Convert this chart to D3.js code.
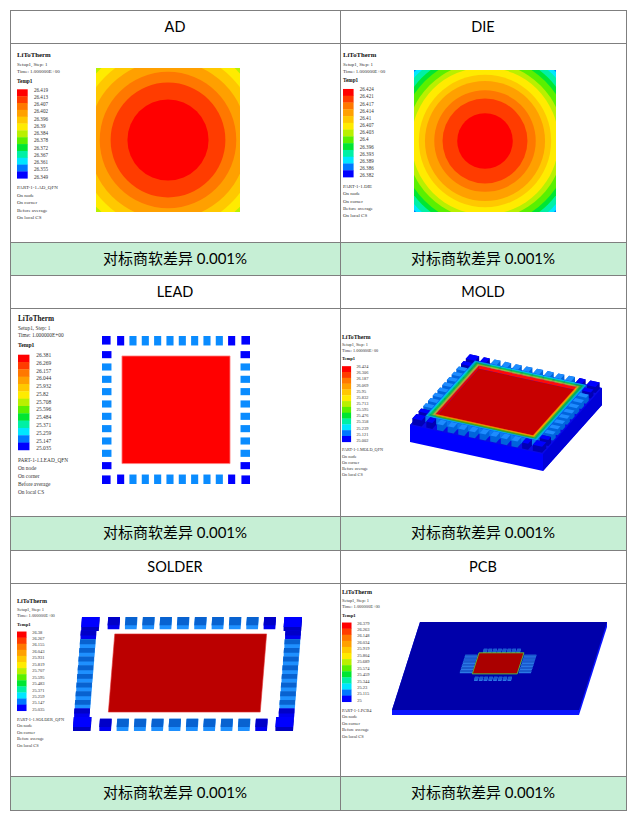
<!DOCTYPE html>
<html>
<head>
<meta charset="utf-8">
<script src="https://cdn.jsdelivr.net/npm/d3@7"></script>
<style>
body { margin: 0; background: #fff; }
svg { display: block; }
</style>
</head>
<body>
<script>
// values
const parts = ["AD", "DIE", "LEAD", "MOLD", "SOLDER", "PCB"];
const partIds = ["PART-1-1.AD_QFN", "PART-1-1.DIE", "PART-1-1.LEAD_QFN", "PART-1-1.MOLD_QFN", "PART-1-1.SOLDER_QFN", "PART-1-1.PCB4"];
const diffText = "对标商软差异 0.001%";
const headLines = ["Setup1, Step: 1", "Time: 1.000000E+00"];
const infoLines = ["On node", "On corner", "Before average", "On local CS"];

const adTicks = ["26.419", "26.413", "26.407", "26.402", "26.396", "26.39", "26.384", "26.378", "26.372", "26.367", "26.361", "26.355", "26.349"];
const dieTicks = ["26.424", "26.421", "26.417", "26.414", "26.41", "26.407", "26.403", "26.4", "26.396", "26.393", "26.389", "26.386", "26.382"];
const leadTicks = ["26.381", "26.269", "26.157", "26.044", "25.932", "25.82", "25.708", "25.596", "25.484", "25.371", "25.259", "25.147", "25.035"];
const moldTicks = ["26.424", "26.306", "26.187", "26.069", "25.95", "25.832", "25.713", "25.595", "25.476", "25.358", "25.239", "25.121", "25.002"];
const solderTicks = ["26.38", "26.267", "26.155", "26.043", "25.931", "25.819", "25.707", "25.595", "25.483", "25.371", "25.259", "25.147", "25.035"];
const pcbTicks = ["26.379", "26.263", "26.148", "26.034", "25.919", "25.804", "25.689", "25.574", "25.459", "25.344", "25.23", "25.115", "25"];

const legendColors = ["#ff0000", "#ff3c00", "#ff7800", "#ffa000", "#ffc800", "#ffeb00", "#b9f000", "#5af000", "#00e632", "#00f0a5", "#00e6ff", "#0078ff", "#0000ff"];

// pin slots per package side
const qfnSlots = d3.range(10);
const pcbLongSlots = d3.range(8);
const pcbShortSlots = d3.range(6);

const W = 631, H = 818;
const svg = d3.select("body").append("svg").attr("width", W).attr("height", H);

// table frame
const colX = [10, 340, 626];
const blocks = [[10, 43, 242, 275], [275, 308, 516, 550], [550, 583, 776, 810]];
const textFont = "Lato, 'Noto Sans CJK SC', sans-serif";

blocks.forEach(b => {
  for (let c = 0; c < 2; c++) {
    svg.append("rect").attr("x", colX[c]).attr("y", b[2]).attr("width", colX[c + 1] - colX[c]).attr("height", b[3] - b[2])
      .attr("fill", "#c6efd5");
  }
});

parts.forEach((p, i) => {
  const c = i % 2, b = blocks[Math.floor(i / 2)];
  const cx = (colX[c] + colX[c + 1]) / 2;
  svg.append("text").attr("x", cx).attr("y", (b[0] + b[1]) / 2).attr("dy", "0.36em")
    .attr("text-anchor", "middle").attr("font-family", textFont).attr("font-size", 14.5).attr("fill", "#000").text(p);
  svg.append("text").attr("x", cx).attr("y", (b[2] + b[3]) / 2).attr("dy", "0.36em")
    .attr("text-anchor", "middle").attr("font-family", textFont).attr("font-size", 15).attr("fill", "#000").text(diffText);
});

// ---------- helpers ----------
function makeProj(o, U, V) {
  const ux = d3.scaleLinear().domain([0, 1]).range([0, U[0]]), uy = d3.scaleLinear().domain([0, 1]).range([0, U[1]]);
  const vx = d3.scaleLinear().domain([0, 1]).range([0, V[0]]), vy = d3.scaleLinear().domain([0, 1]).range([0, V[1]]);
  return (u, v, w = 0) => [o[0] + ux(u) + vx(v), o[1] + uy(u) + vy(v) - w];
}
function quad(proj, u0, u1, v0, v1, w) {
  return [[u0, v0], [u1, v0], [u1, v1], [u0, v1]].map(([u, v]) => proj(u, v, w));
}
const pathOf = pts => "M" + pts.map(p => p.join(",")).join("L") + "Z";

function box(g, proj, b, top, side) {
  if (b.w1 > b.w0) {
    const pts = quad(proj, b.u0, b.u1, b.v0, b.v1, b.w0).concat(quad(proj, b.u0, b.u1, b.v0, b.v1, b.w1));
    g.append("path").attr("d", pathOf(d3.polygonHull(pts))).attr("fill", side);
  }
  g.append("path").attr("d", pathOf(quad(proj, b.u0, b.u1, b.v0, b.v1, b.w1))).attr("fill", top);
}

// pins around a square package in unit coords
function pinBoxes(o) {
  const out = [];
  const along = d3.scalePoint().domain(o.slots).range(o.range);
  const acr = o.sideSlots ? d3.scalePoint().domain(o.sideSlots).range(o.sideRange) : along;
  const n = o.slots.length, ns = (o.sideSlots || o.slots).length;
  const e0 = o.edge, e1 = o.edge + o.len;
  o.slots.forEach((s, i) => {
    const m = along(s), dark = o.ends && (i === 0 || i === n - 1);
    out.push({ u0: m - o.wid / 2, u1: m + o.wid / 2, v0: e0, v1: e1, side: "v0", dark });
    out.push({ u0: m - o.wid / 2, u1: m + o.wid / 2, v0: 1 - e1, v1: 1 - e0, side: "v1", dark });
  });
  (o.sideSlots || o.slots).forEach((s, i) => {
    const m = acr(s), dark = o.ends && (i === 0 || i === ns - 1);
    const wd = o.sideWid || o.wid, ln = o.sideLen || o.len;
    out.push({ v0: m - wd / 2, v1: m + wd / 2, u0: e0, u1: e0 + ln, side: "u0", dark });
    out.push({ v0: m - wd / 2, v1: m + wd / 2, u0: 1 - e0 - ln, u1: 1 - e0, side: "u1", dark });
  });
  if (o.corner) {
    const k = o.corner;
    [[0, 0], [1, 0], [0, 1], [1, 1]].forEach(([a, b]) => {
      out.push({
        u0: a ? 1 - e0 - k[0] : e0, u1: a ? 1 - e0 : e0 + k[0],
        v0: b ? 1 - e0 - k[1] : e0, v1: b ? 1 - e0 : e0 + k[1],
        side: "c" + a + b, dark: true, corner: true
      });
    });
  }
  out.forEach(p => { p.w0 = 0; p.w1 = o.h; });
  return out;
}

function legend(g, ticks, id, L) {
  const s = L.s, x = L.x, y = L.y;
  const font = "'Liberation Serif', 'DejaVu Serif', serif";
  const t = (dy, txt, size, bold) => g.append("text").attr("x", x).attr("y", y + dy * s).attr("dy", "0.35em")
    .attr("font-family", font).attr("font-size", size * s).attr("font-weight", bold ? "bold" : "normal")
    .attr("fill", bold ? "#111" : "#333").text(txt);
  t(0, "LiToTherm", 6.8, true);
  t(9, headLines[0], 5);
  t(16, headLines[1], 5);
  t(25.7, "Temp1", 5.3, true);
  const topDy = 34.3, hDy = 89;
  const top = y + topDy * s, bot = top + hDy * s;
  const band = d3.scaleBand().domain(d3.range(ticks.length)).range([top, bot]);
  g.selectAll(null).data(ticks).join("rect")
    .attr("x", x).attr("y", (d, i) => band(i)).attr("width", 10.7 * s).attr("height", band.bandwidth() + 0.3)
    .attr("fill", (d, i) => legendColors[i]);
  const ly = d3.scalePoint().domain(ticks).range([top + 0.5, bot - 1.5]);
  g.selectAll(null).data(ticks).join("text")
    .attr("x", x + 17 * s).attr("y", d => ly(d)).attr("dy", "0.35em")
    .attr("font-family", font).attr("font-size", 5.1 * s).attr("fill", "#333").text(d => d);
  const partDy = topDy + hDy + 9.4;
  t(partDy, id, 5);
  infoLines.forEach((l, i) => t(partDy + 7.4 * (i + 1), l, 5));
}

// ---------- contour squares (AD, DIE) ----------
function contourSquare(g, ticks, sq, R, key) {
  const vals = ticks.map(Number);
  const tMax = vals[0];
  const r = d3.scaleSqrt().domain([0, tMax - vals[vals.length - 1]]).range([0, R]);
  const cx = sq.x + sq.size / 2, cy = sq.y + sq.size / 2;
  g.append("clipPath").attr("id", key).append("rect")
    .attr("x", sq.x).attr("y", sq.y).attr("width", sq.size).attr("height", sq.size);
  const cg = g.append("g").attr("clip-path", `url(#${key})`);
  cg.append("rect").attr("x", sq.x).attr("y", sq.y).attr("width", sq.size).attr("height", sq.size)
    .attr("fill", legendColors[legendColors.length - 1]);
  const rings = vals.slice(1).map((v, k) => ({ k, rad: r(tMax - v) })).reverse();
  cg.selectAll(null).data(rings).join("circle")
    .attr("cx", cx).attr("cy", cy).attr("r", d => d.rad).attr("fill", d => legendColors[d.k]);
}

const panels = svg.append("g");

// AD
legend(panels.append("g"), adTicks, partIds[0], { x: 17, y: 55, s: 1 });
contourSquare(panels.append("g"), adTicks, { x: 96, y: 68, size: 144 }, 138.6, "clipAD");

// DIE
legend(panels.append("g"), dieTicks, partIds[1], { x: 343, y: 55, s: 0.99 });
contourSquare(panels.append("g"), dieTicks, { x: 414, y: 70, size: 142 }, 104, "clipDIE");

// LEAD (top view)
legend(panels.append("g"), leadTicks, partIds[2], { x: 18, y: 318, s: 1.07 });
{
  const g = panels.append("g");
  const proj = makeProj([102, 336], [148, 0], [0, 148]);
  pinBoxes({ slots: qfnSlots, range: [0.126, 0.876], edge: 0, len: 0.064, wid: 0.048, h: 0, ends: true, corner: [0.058, 0.058] })
    .forEach(p => box(g, proj, p, p.dark ? "#0000ff" : "#0a8cff", "#0000ff"));
  g.append("path").attr("d", pathOf(quad(proj, 0.135, 0.865, 0.135, 0.862, 0)))
    .attr("fill", "#ff0000").attr("stroke", "#ff8080").attr("stroke-width", 0.8);
}

// MOLD (isometric)
legend(panels.append("g"), moldTicks, partIds[3], { x: 342, y: 337, s: 0.85 });
{
  const g = panels.append("g");
  const proj = makeProj([410, 425], [133, 29], [59, -66]);
  // slab
  box(g, proj, { u0: 0, u1: 1, v0: 0, v1: 1, w0: -17, w1: 0 }, "#0a0ae6", "#0000ff");
  g.append("path").attr("d", pathOf([proj(1, 0, 0), proj(1, 1, 0), proj(1, 1, -17), proj(1, 0, -17)])).attr("fill", "#0000d8");
  const pins = pinBoxes({ slots: qfnSlots, range: [0.14, 0.86], edge: 0.012, len: 0.065, wid: 0.045, h: 6, ends: true, corner: [0.07, 0.07] });
  const front = p => p.side === "v0" || p.side === "u1" || p.side === "c10";
  const depth = p => (p.u0 + p.u1) / 2 - (p.v0 + p.v1) / 2;
  const drawPin = p => box(g, proj, p, p.dark ? "#0000ff" : "#1e8cff", p.dark ? "#0000b4" : "#0064dc");
  pins.filter(p => !front(p)).sort((a, b) => depth(a) - depth(b)).forEach(drawPin);
  // mold body
  const m0 = 0.08, m1 = 0.92, mh = 6, c0 = 0.135, c1 = 0.865, fh = 3;
  g.append("path").attr("d", pathOf([proj(m0, m0, 0), proj(m1, m0, 0), proj(m1, m0, mh), proj(m0, m0, mh)])).attr("fill", "#0a78f0");
  g.append("path").attr("d", pathOf([proj(m1, m0, 0), proj(m1, m1, 0), proj(m1, m1, mh), proj(m1, m0, mh)])).attr("fill", "#0a64dc");
  g.append("path").attr("d", pathOf(quad(proj, c0, c1, c0, c1, fh))).attr("fill", "#c80000");
  g.append("path").attr("d", pathOf([proj(c0, c1, fh), proj(c1, c1, fh), proj(c1, c1, mh), proj(c0, c1, mh)])).attr("fill", "#ff0a0a");
  g.append("path").attr("d", pathOf([proj(c0, c0, fh), proj(c0, c1, fh), proj(c0, c1, mh), proj(c0, c0, mh)])).attr("fill", "#e60000");
  const rimBands = [11, 10, 10, 9, 9, 8, 8, 8, 7, 7, 6, 5, 4, 2];
  const inset = d3.scaleLinear().domain([0, rimBands.length]).range([m0, c0]);
  rimBands.forEach((ci, k) => {
    const a = inset(k), b = inset(k + 1);
    g.append("path").attr("d", pathOf(quad(proj, a, 1 - a, a, 1 - a, mh)) + pathOf(quad(proj, b, 1 - b, b, 1 - b, mh)))
      .attr("fill-rule", "evenodd").attr("fill", legendColors[ci]);
  });
  pins.filter(front).sort((a, b) => depth(a) - depth(b)).forEach(drawPin);
}

// SOLDER (oblique)
legend(panels.append("g"), solderTicks, partIds[4], { x: 17, y: 601, s: 0.89 });
{
  const g = panels.append("g");
  const proj = makeProj([82, 621], [220, 0], [-9, 110]);
  pinBoxes({ slots: qfnSlots, range: [0.146, 0.855], edge: 0, len: 0.075, wid: 0.053, sideLen: 0.07, sideWid: 0.045, h: 4, ends: true, corner: [0.08, 0.09] })
    .sort((a, b) => (a.v0 + a.v1) - (b.v0 + b.v1))
    .forEach(p => box(g, proj, p, p.corner ? "#0000ff" : p.dark ? "#0000c8" : "#0862d0", p.corner ? "#0000c0" : p.dark ? "#0000f0" : "#1e90ff"));
  g.append("path").attr("d", pathOf(quad(proj, 0.155, 0.845, 0.145, 0.855, 3)))
    .attr("fill", "#bb0000").attr("stroke", "#e03030").attr("stroke-width", 0.6);
}

// PCB (oblique)
legend(panels.append("g"), pcbTicks, partIds[5], { x: 342, y: 592, s: 0.89 });
{
  const g = panels.append("g");
  const proj = makeProj([420, 622], [187, 0], [-28, 88]);
  box(g, proj, { u0: 0, u1: 1, v0: 0, v1: 1, w0: -5, w1: 0 }, "#0000aa", "#0a14ff");
  const pu = d3.scaleLinear().domain([0, 1]).range([0.30, 0.68]);
  const pv = d3.scaleLinear().domain([0, 1]).range([0.318, 0.67]);
  const pk = (u, v, w) => proj(pu(u), pv(v), w);
  pinBoxes({ slots: pcbLongSlots, range: [0.26, 0.73], sideSlots: pcbShortSlots, sideRange: [0.22, 0.72], edge: 0, len: 0.1, wid: 0.05, sideLen: 0.17, sideWid: 0.06, h: 1.2, ends: false })
    .sort((a, b) => (a.v0 + a.v1) - (b.v0 + b.v1))
    .forEach(p => box(g, pk, p, "#1a5acd", "#2a78e6"));
  g.append("path").attr("d", pathOf(quad(pk, 0.184, 0.816, 0.13, 0.81, 1.2)))
    .attr("fill", "#aa0000").attr("stroke", "#5ac83c").attr("stroke-width", 0.9);
}

// grid lines on top
const gridY = Array.from(new Set(blocks.flat()));
svg.append("g").selectAll("line").data(gridY).join("line")
  .attr("x1", colX[0]).attr("x2", colX[2]).attr("y1", d => d + 0.5).attr("y2", d => d + 0.5)
  .attr("stroke", "#7f7f7f").attr("stroke-width", 1);
svg.append("g").selectAll("line").data(colX).join("line")
  .attr("x1", d => d + 0.5).attr("x2", d => d + 0.5).attr("y1", blocks[0][0]).attr("y2", blocks[2][3] + 1)
  .attr("stroke", "#7f7f7f").attr("stroke-width", 1);
</script>
</body>
</html>
